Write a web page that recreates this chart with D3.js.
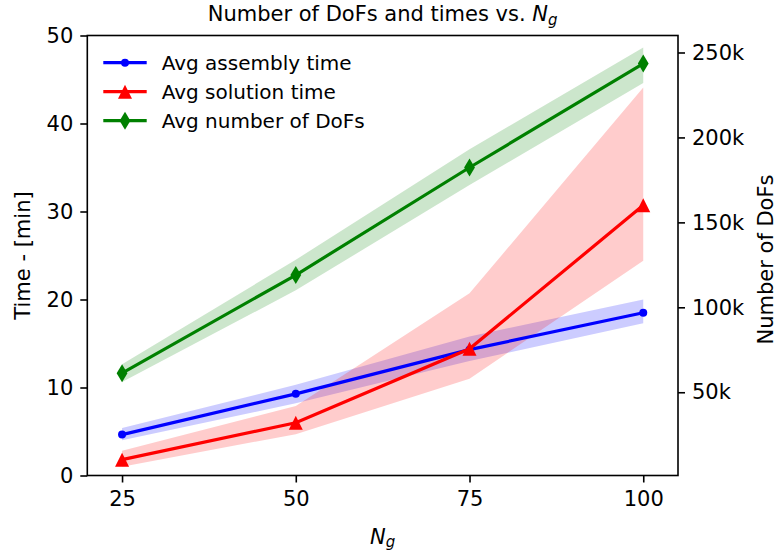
<!DOCTYPE html>
<html>
<head>
<meta charset="utf-8">
<script src="https://cdn.jsdelivr.net/npm/d3@7"></script>
<style>
  body { margin: 0; background: #fff; }
  svg text { font-family: "DejaVu Sans", sans-serif; fill: #000; }
</style>
</head>
<body>
<div id="app"></div>
<script>
// Averages over runs for each grid size N_g, with min/max bands
const nG = [25, 50, 75, 100];
const xTicks = [25, 50, 75, 100];
const timeTicks = [0, 10, 20, 30, 40, 50];
const dofTicks = [50000, 100000, 150000, 200000, 250000];

const assemblyTime = [4.65, 9.28, 14.3, 18.5];
const assemblyLow = [4.0, 8.2, 13.0, 17.3];
const assemblyHigh = [5.4, 10.3, 15.8, 20.0];

const solutionTime = [1.8, 6.0, 14.4, 30.7];
const solutionLow = [1.0, 4.7, 11.0, 24.4];
const solutionHigh = [2.8, 7.9, 20.7, 44.1];

const dofs = [61200, 119000, 182300, 243500];
const dofsLow = [56000, 110000, 172000, 232000];
const dofsHigh = [66500, 128000, 193000, 253000];

const W = 778, H = 550;
const m = { left: 87.3, right: 100, top: 35.5, bottom: 74.5 };
const iw = W - m.left - m.right, ih = H - m.top - m.bottom;

const svg = d3.select('#app').append('svg')
  .attr('width', W).attr('height', H);

const x = d3.scaleLinear().domain([20, 105]).range([m.left, m.left + iw]);
const yL = d3.scaleLinear().domain([0, 50]).range([m.top + ih, m.top]);
const yR = d3.scaleLinear().domain([1000, 260000]).range([m.top + ih, m.top]);

const rows = (mid, lo, hi) => nG.map((n, i) => ({ n, v: mid[i], lo: lo[i], hi: hi[i] }));
const series = [
  { name: 'Avg assembly time', color: '#0000ff', y: yL, data: rows(assemblyTime, assemblyLow, assemblyHigh), marker: 'circle' },
  { name: 'Avg solution time', color: '#ff0000', y: yL, data: rows(solutionTime, solutionLow, solutionHigh), marker: 'triangle' },
  { name: 'Avg number of DoFs', color: '#008000', y: yR, data: rows(dofs, dofsLow, dofsHigh), marker: 'diamond' }
];

const markerPath = {
  circle: 'M4,0A4,4 0 1,1 -4,0A4,4 0 1,1 4,0Z',
  triangle: 'M0,-7L7,7L-7,7Z',
  diamond: 'M0,-9L5.4,0L0,9L-5.4,0Z'
};

const plot = svg.append('g');

const bandOf = s => d3.area().x(d => x(d.n)).y0(d => s.y(d.lo)).y1(d => s.y(d.hi));
const lineOf = s => d3.line().x(d => x(d.n)).y(d => s.y(d.v));

// time bands, then time lines
series.slice(0, 2).forEach(s => {
  plot.append('path').attr('d', bandOf(s)(s.data))
    .attr('fill', s.color).attr('fill-opacity', 0.2);
});
series.slice(0, 2).forEach(s => {
  plot.append('path').attr('d', lineOf(s)(s.data))
    .attr('fill', 'none').attr('stroke', s.color).attr('stroke-width', 3.2);
  plot.selectAll(null).data(s.data).enter().append('path')
    .attr('d', markerPath[s.marker])
    .attr('transform', d => `translate(${x(d.n)},${s.y(d.v)})`)
    .attr('fill', s.color);
});

// DoFs on the twin axis, drawn on top
const g3 = series[2];
plot.append('path').attr('d', bandOf(g3)(g3.data))
  .attr('fill', g3.color).attr('fill-opacity', 0.2);
plot.append('path').attr('d', lineOf(g3)(g3.data))
  .attr('fill', 'none').attr('stroke', g3.color).attr('stroke-width', 3.2);
plot.selectAll(null).data(g3.data).enter().append('path')
  .attr('d', markerPath[g3.marker])
  .attr('transform', d => `translate(${x(d.n)},${g3.y(d.v)})`)
  .attr('fill', g3.color);

// axes
const styleAxis = g => {
  g.selectAll('.domain').remove();
  g.selectAll('.tick line').attr('stroke', '#000').attr('stroke-width', 1.6);
  g.selectAll('.tick text').style('font-size', '21px').attr('fill', '#000');
};

svg.append('g').attr('transform', `translate(0,${m.top + ih})`)
  .call(d3.axisBottom(x).tickValues(xTicks).tickSize(7).tickPadding(9))
  .call(styleAxis);

svg.append('g').attr('transform', `translate(${m.left},0)`)
  .call(d3.axisLeft(yL).tickValues(timeTicks).tickSize(7).tickPadding(7))
  .call(styleAxis);

svg.append('g').attr('transform', `translate(${m.left + iw},0)`)
  .call(d3.axisRight(yR).tickValues(dofTicks).tickSize(7).tickPadding(7)
    .tickFormat(d => d / 1000 + 'k'))
  .call(styleAxis);

svg.append('rect')
  .attr('x', m.left).attr('y', m.top).attr('width', iw).attr('height', ih)
  .attr('fill', 'none').attr('stroke', '#000').attr('stroke-width', 1.6);

// labels
const title = svg.append('text')
  .attr('x', m.left + iw / 2).attr('y', 21)
  .attr('text-anchor', 'middle').style('font-size', '21px')
  .text('Number of DoFs and times vs. ');
title.append('tspan').style('font-style', 'italic').text('N');
title.append('tspan').style('font-style', 'italic').style('font-size', '15px')
  .attr('dy', 4).text('g');

const xl = svg.append('text')
  .attr('x', m.left + iw / 2).attr('y', 544)
  .attr('text-anchor', 'middle').style('font-size', '21px');
xl.append('tspan').style('font-style', 'italic').text('N');
xl.append('tspan').style('font-style', 'italic').style('font-size', '15px')
  .attr('dy', 3).text('g');

svg.append('text')
  .attr('transform', `translate(30,${m.top + ih / 2}) rotate(-90)`)
  .attr('text-anchor', 'middle').style('font-size', '21px')
  .text('Time - [min]');

svg.append('text')
  .attr('transform', `translate(773,${m.top + ih / 2 + 4}) rotate(-90)`)
  .attr('text-anchor', 'middle').style('font-size', '21px')
  .text('Number of DoFs');

// legend
const legend = svg.append('g');
series.forEach((s, i) => {
  const ly = 62.7 + i * 29;
  legend.append('line')
    .attr('x1', 103.3).attr('x2', 146.7).attr('y1', ly).attr('y2', ly)
    .attr('stroke', s.color).attr('stroke-width', 3.2);
  legend.append('path').attr('d', markerPath[s.marker])
    .attr('transform', `translate(125,${ly})`).attr('fill', s.color);
  legend.append('text')
    .attr('x', 161.7).attr('y', ly).attr('dy', '0.35em')
    .style('font-size', '20px').text(s.name);
});
</script>
</body>
</html>
